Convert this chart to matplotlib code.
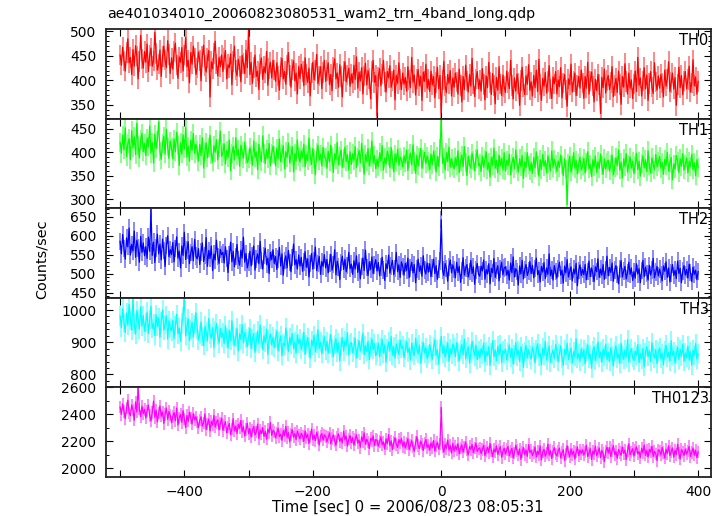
import numpy as np
import matplotlib
matplotlib.use("Agg")
import matplotlib.pyplot as plt
from matplotlib.ticker import MultipleLocator, FuncFormatter

plt.rcParams['font.family'] = ['DejaVu Sans']

title = "ae401034010_20060823080531_wam2_trn_4band_long.qdp"
xlabel = "Time [sec] 0 = 2006/08/23 08:05:31"
ylabel = "Counts/sec"
band_names = ["TH0", "TH1", "TH2", "TH3", "TH0123"]

t_start = -500
t_step = 2

th0 = [452, 431, 468, 440, 419, 457, 485, 436, 447, 412, 463, 429, 471, 450, 403, 438, 492, 444, 425, 459,
       437, 474, 418, 451, 466, 429, 440, 498, 455, 421, 433, 462, 408, 449, 470, 442, 426, 481, 453, 414,
       446, 423, 459, 476, 431, 404, 448, 437, 467, 419, 452, 488, 428, 441, 395, 457, 433, 470, 446, 412,
       425, 458, 441, 399, 449, 472, 430, 417, 446, 461, 366, 438, 424, 455, 480, 433, 409, 447, 428, 452,
       418, 445, 461, 403, 432, 426, 454, 391, 438, 470, 421, 409, 443, 428, 397, 451, 435, 414, 462, 426,
       510, 412, 437, 394, 426, 452, 408, 419, 381, 433, 446, 402, 428, 415, 459, 390, 424, 437, 405, 441,
       421, 398, 436, 409, 380, 427, 445, 403, 418, 392, 431, 457, 410, 386, 422, 440, 399, 415, 372, 428,
       404, 433, 418, 389, 446, 412, 396, 425, 368, 415, 437, 401, 420, 453, 393, 409, 428, 383, 416, 441,
       398, 420, 436, 391, 412, 379, 427, 444, 403, 415, 386, 432, 408, 366, 419, 438, 397, 411, 425, 388,
       413, 395, 431, 402, 448, 384, 417, 399, 426, 372, 409, 435, 391, 420, 404, 362, 418, 441, 396, 410,
       327, 407, 424, 389, 413, 441, 397, 376, 418, 405, 430, 386, 399, 421, 360, 410, 394, 436, 402, 381,
       415, 392, 406, 378, 428, 401, 385, 447, 396, 411, 370, 403, 422, 389, 408, 359, 417, 398, 433, 384,
       402, 377, 419, 391, 408, 364, 396, 427, 383, 410, 333, 401, 439, 388, 375, 412, 394, 420, 368, 405,
       386, 415, 397, 372, 423, 390, 356, 408, 381, 431, 399, 376, 412, 388, 445, 394, 367, 403, 418, 383,
       401, 378, 424, 392, 360, 409, 385, 437, 396, 371, 414, 389, 352, 406, 380, 428, 393, 369, 411, 387,
       375, 419, 396, 383, 441, 390, 362, 405, 378, 413, 394, 349, 400, 427, 386, 371, 409, 392, 432, 380,
       397, 368, 410, 385, 421, 377, 443, 391, 359, 404, 388, 416, 374, 398, 430, 382, 363, 407, 393, 418,
       372, 401, 387, 426, 364, 395, 412, 380, 347, 403, 391, 433, 376, 398, 415, 369, 389, 408, 384, 421,
       395, 363, 408, 384, 437, 372, 399, 417, 388, 356, 402, 379, 412, 391, 332, 406, 385, 423, 374, 400,
       410, 381, 396, 428, 367, 389, 404, 375, 419, 392, 351, 408, 386, 434, 398, 372, 415, 384, 401, 363,
       393, 419, 377, 447, 390, 405, 368, 399, 426, 383, 411, 359, 394, 418, 386, 373, 436, 397, 380, 409,
       384, 412, 395, 366, 421, 388, 403, 438, 377, 396, 415, 382, 406, 349, 392, 427, 385, 410, 371, 399,
       418, 383, 402, 429, 376, 395, 442, 389, 407, 372, 398]

th1 = [421, 398, 437, 405, 452, 391, 418, 429, 384, 446, 409, 433, 395, 462, 414, 388, 427, 440, 401, 419,
       393, 430, 412, 456, 398, 421, 377, 439, 408, 426, 465, 402, 385, 418, 434, 396, 449, 411, 387, 424,
       410, 386, 428, 401, 443, 415, 372, 420, 396, 437, 407, 453, 390, 413, 381, 426, 404, 440, 398, 417,
       405, 381, 417, 393, 431, 366, 402, 420, 388, 410, 436, 395, 379, 414, 400, 427, 384, 409, 445, 391,
       399, 418, 375, 404, 389, 426, 361, 397, 412, 384, 431, 392, 406, 370, 415, 401, 387, 422, 395, 378,
       386, 410, 395, 372, 424, 389, 401, 363, 417, 392, 380, 435, 398, 376, 406, 387, 419, 371, 397, 413,
       394, 371, 409, 386, 428, 380, 397, 414, 365, 401, 389, 420, 377, 393, 412, 358, 398, 382, 426, 390,
       379, 403, 388, 417, 369, 395, 382, 430, 391, 374, 408, 386, 352, 399, 415, 383, 396, 371, 410, 389,
       388, 366, 402, 379, 415, 391, 357, 397, 384, 421, 373, 392, 405, 368, 387, 411, 380, 395, 362, 401,
       374, 397, 383, 412, 367, 390, 404, 378, 419, 386, 353, 395, 380, 408, 371, 389, 424, 377, 393, 365,
       385, 370, 399, 381, 414, 362, 388, 375, 402, 391, 367, 410, 384, 358, 396, 379, 407, 372, 390, 383,
       369, 392, 377, 405, 361, 386, 398, 373, 416, 380, 355, 394, 371, 389, 408, 366, 384, 400, 376, 392,
       381, 363, 396, 374, 402, 385, 358, 391, 370, 409, 470, 376, 388, 362, 399, 380, 411, 368, 386, 372,
       365, 388, 372, 403, 357, 381, 394, 369, 412, 378, 350, 391, 374, 366, 398, 383, 360, 387, 405, 371,
       376, 359, 392, 368, 385, 401, 363, 378, 347, 389, 372, 409, 366, 383, 356, 394, 371, 387, 362, 399,
       360, 383, 371, 396, 352, 377, 389, 365, 405, 374, 358, 386, 369, 393, 344, 380, 367, 399, 373, 361,
       378, 355, 389, 367, 401, 372, 349, 384, 363, 395, 370, 382, 357, 392, 376, 360, 403, 368, 385, 374,
       359, 381, 368, 394, 373, 350, 386, 364, 288, 377, 391, 358, 372, 399, 366, 383, 354, 376, 389, 362,
       371, 387, 356, 379, 401, 365, 374, 348, 384, 369, 392, 357, 380, 366, 396, 372, 353, 386, 364, 378,
       383, 360, 375, 394, 352, 368, 388, 371, 405, 362, 379, 345, 386, 370, 397, 358, 374, 390, 366, 381,
       355, 372, 398, 363, 381, 349, 376, 392, 367, 384, 359, 403, 371, 356, 388, 374, 362, 395, 369, 380,
       391, 366, 379, 353, 385, 372, 400, 360, 377, 389, 341, 375, 364, 393, 381, 357, 386, 370, 397, 362,
       374, 388, 356, 381, 369, 396, 363, 378, 350, 384, 367]

th2 = [585, 552, 603, 566, 538, 594, 571, 620, 549, 577, 560, 612, 543, 588, 567, 530, 598, 556, 581, 547,
       571, 540, 596, 559, 670, 548, 583, 529, 567, 604, 552, 578, 536, 591, 561, 519, 574, 600, 545, 563,
       550, 582, 531, 566, 597, 541, 559, 515, 573, 548, 609, 537, 562, 584, 526, 555, 571, 534, 590, 546,
       539, 566, 524, 557, 581, 532, 548, 595, 519, 561, 540, 573, 508, 552, 536, 588, 545, 527, 564, 550,
       556, 528, 571, 540, 503, 549, 583, 531, 559, 518, 545, 577, 536, 522, 562, 541, 596, 530, 553, 515,
       531, 559, 520, 547, 573, 509, 538, 552, 526, 585, 534, 512, 548, 567, 524, 541, 500, 556, 537, 563,
       527, 545, 511, 538, 569, 520, 552, 496, 534, 547, 515, 561, 529, 505, 542, 578, 523, 537, 512, 549,
       520, 543, 506, 531, 558, 517, 539, 491, 527, 553, 512, 534, 570, 508, 526, 545, 498, 532, 519, 550,
       515, 537, 502, 528, 551, 509, 524, 563, 497, 533, 518, 484, 529, 546, 511, 538, 505, 521, 556, 513,
       525, 498, 534, 512, 547, 503, 529, 486, 519, 541, 508, 562, 516, 495, 531, 511, 544, 500, 523, 537,
       507, 529, 494, 518, 543, 510, 482, 526, 513, 549, 501, 520, 535, 497, 514, 556, 505, 523, 490, 531,
       519, 496, 527, 508, 541, 489, 515, 530, 502, 524, 476, 512, 538, 506, 521, 493, 547, 510, 499, 528,
       504, 526, 492, 515, 538, 500, 521, 485, 512, 533, 642, 509, 495, 527, 514, 480, 518, 536, 502, 523,
       511, 489, 530, 503, 519, 477, 508, 542, 496, 515, 524, 491, 506, 535, 500, 518, 472, 510, 527, 498,
       493, 520, 507, 536, 485, 511, 499, 526, 473, 514, 502, 540, 490, 508, 521, 481, 512, 530, 497, 515,
       518, 496, 509, 483, 528, 502, 544, 491, 513, 506, 470, 520, 499, 535, 486, 511, 524, 495, 507, 532,
       500, 522, 489, 513, 541, 497, 508, 478, 519, 504, 529, 487, 515, 498, 552, 494, 510, 483, 521, 505,
       488, 514, 530, 496, 509, 475, 520, 502, 537, 491, 506, 518, 481, 512, 499, 527, 468, 508, 523, 495,
       511, 497, 524, 484, 506, 533, 492, 515, 501, 479, 518, 505, 539, 490, 512, 496, 524, 485, 509, 546,
       494, 516, 503, 528, 480, 509, 521, 497, 473, 512, 534, 491, 507, 519, 486, 502, 530, 498, 515, 482,
       505, 488, 526, 499, 513, 476, 508, 535, 492, 517, 501, 483, 522, 496, 510, 540, 489, 504, 519, 494,
       512, 497, 481, 520, 506, 531, 490, 515, 478, 502, 524, 495, 509, 487, 533, 500, 514, 476, 507, 521,
       496, 511, 488, 525, 503, 479, 517, 498, 509, 484, 505]

th3 = [982, 945, 1004, 961, 930, 991, 953, 1018, 969, 938, 1040, 957, 925, 998, 972, 941, 1010, 950, 983, 934,
       961, 994, 927, 970, 1012, 943, 958, 921, 985, 949, 976, 915, 964, 1001, 938, 955, 982, 910, 967, 946,
       935, 968, 912, 951, 987, 926, 944, 903, 960, 981, 1038, 920, 948, 973, 905, 939, 962, 916, 955, 992,
       941, 907, 925, 963, 918, 889, 950, 932, 904, 974, 926, 912, 946, 883, 935, 958, 920, 897, 943, 915,
       929, 896, 951, 913, 882, 938, 906, 967, 921, 890, 915, 944, 873, 926, 909, 955, 898, 931, 912, 886,
       918, 943, 881, 910, 927, 869, 902, 935, 896, 954, 913, 877, 920, 899, 941, 862, 908, 926, 891, 916,
       884, 912, 935, 873, 901, 920, 858, 897, 889, 944, 906, 871, 915, 893, 927, 880, 902, 866, 923, 896,
       910, 877, 899, 931, 862, 894, 914, 885, 851, 906, 889, 922, 870, 897, 939, 881, 901, 864, 892, 918,
       875, 903, 866, 897, 924, 881, 855, 892, 911, 869, 898, 842, 886, 915, 873, 904, 889, 930, 860, 894,
       899, 868, 887, 913, 851, 880, 905, 874, 893, 928, 862, 889, 871, 903, 846, 885, 910, 877, 896, 858,
       870, 897, 855, 884, 909, 866, 892, 838, 879, 901, 873, 918, 860, 886, 851, 895, 877, 862, 906, 881,
       889, 852, 876, 903, 868, 882, 845, 897, 871, 858, 912, 879, 864, 891, 835, 874, 899, 867, 884, 850,
       861, 893, 870, 847, 886, 908, 859, 877, 832, 881, 918, 866, 889, 854, 873, 898, 841, 880, 863, 895,
       884, 856, 899, 868, 842, 877, 893, 861, 910, 849, 872, 886, 835, 865, 902, 878, 857, 891, 846, 874,
       851, 880, 863, 897, 839, 872, 858, 886, 828, 869, 905, 855, 876, 843, 888, 861, 894, 837, 874, 866,
       879, 845, 868, 892, 853, 881, 832, 863, 899, 857, 874, 840, 886, 866, 822, 871, 890, 851, 877, 860,
       848, 885, 869, 836, 877, 895, 856, 866, 829, 882, 859, 903, 845, 870, 888, 838, 862, 876, 850, 893,
       873, 840, 864, 889, 851, 828, 878, 860, 897, 846, 867, 882, 835, 871, 856, 911, 849, 865, 842, 880,
       855, 877, 833, 868, 892, 849, 862, 819, 874, 886, 843, 866, 901, 852, 870, 838, 879, 857, 894, 846,
       869, 841, 883, 858, 826, 871, 889, 850, 864, 835, 897, 861, 847, 876, 854, 908, 839, 866, 880, 852,
       843, 872, 859, 893, 837, 865, 848, 881, 824, 868, 886, 855, 874, 840, 899, 862, 851, 877, 833, 870,
       882, 849, 866, 830, 874, 891, 853, 869, 842, 905, 858, 872, 836, 863, 885, 847, 878, 856, 894, 841,
       867, 852, 888, 845, 871, 829, 876, 859, 896, 848, 864]

th0123 = [2452, 2398, 2476, 2421, 2367, 2445, 2503, 2410, 2389, 2468, 2431, 2355, 2490, 2417, 2600, 2440, 2382, 2459, 2404, 2436,
          2371, 2425, 2468, 2389, 2350, 2412, 2497, 2376, 2430, 2343, 2408, 2461, 2385, 2417, 2332, 2399, 2446, 2361, 2420, 2394,
          2337, 2384, 2412, 2351, 2446, 2320, 2373, 2398, 2339, 2426, 2365, 2302, 2390, 2348, 2415, 2371, 2327, 2405, 2358, 2381,
          2342, 2298, 2355, 2381, 2311, 2336, 2402, 2287, 2329, 2364, 2276, 2347, 2318, 2392, 2305, 2340, 2359, 2283, 2331, 2370,
          2280, 2318, 2345, 2262, 2304, 2331, 2249, 2290, 2366, 2277, 2312, 2258, 2326, 2296, 2354, 2271, 2308, 2239, 2287, 2334,
          2255, 2294, 2231, 2279, 2310, 2246, 2268, 2327, 2220, 2283, 2257, 2301, 2236, 2274, 2215, 2289, 2262, 2338, 2243, 2280,
          2270, 2225, 2261, 2296, 2234, 2252, 2206, 2279, 2241, 2310, 2228, 2264, 2195, 2249, 2287, 2230, 2257, 2212, 2275, 2243,
          2218, 2259, 2240, 2197, 2276, 2225, 2251, 2183, 2233, 2290, 2212, 2245, 2204, 2266, 2229, 2171, 2238, 2256, 2209, 2247,
          2236, 2195, 2228, 2262, 2181, 2219, 2247, 2203, 2170, 2231, 2255, 2198, 2224, 2187, 2273, 2210, 2238, 2164, 2216, 2242,
          2190, 2227, 2171, 2214, 2248, 2186, 2209, 2155, 2232, 2199, 2262, 2178, 2215, 2193, 2146, 2221, 2204, 2239, 2168, 2212,
          2207, 2163, 2198, 2232, 2174, 2195, 2143, 2218, 2181, 2249, 2166, 2203, 2138, 2191, 2226, 2177, 2154, 2212, 2185, 2221,
          2161, 2196, 2150, 2183, 2219, 2139, 2172, 2204, 2158, 2126, 2190, 2234, 2167, 2145, 2201, 2178, 2131, 2186, 2213, 2154,
          2173, 2134, 2188, 2152, 2205, 2127, 2166, 2193, 2141, 2180, 2450, 2158, 2119, 2176, 2147, 2209, 2135, 2169, 2112, 2184,
          2128, 2165, 2137, 2182, 2106, 2151, 2173, 2119, 2157, 2194, 2133, 2098, 2161, 2140, 2176, 2115, 2149, 2186, 2124, 2143,
          2150, 2109, 2138, 2171, 2094, 2127, 2155, 2116, 2183, 2131, 2087, 2143, 2120, 2166, 2102, 2135, 2160, 2081, 2126, 2148,
          2105, 2139, 2161, 2092, 2124, 2148, 2077, 2113, 2170, 2130, 2098, 2143, 2066, 2119, 2154, 2101, 2135, 2088, 2175, 2116,
          2132, 2094, 2118, 2157, 2083, 2126, 2102, 2165, 2061, 2121, 2140, 2089, 2113, 2178, 2097, 2130, 2072, 2124, 2152, 2105,
          2091, 2129, 2149, 2076, 2115, 2138, 2058, 2107, 2166, 2120, 2084, 2143, 2101, 2127, 2069, 2119, 2158, 2093, 2135, 2110,
          2137, 2098, 2122, 2171, 2086, 2111, 2145, 2065, 2128, 2104, 2163, 2092, 2119, 2150, 2079, 2132, 2108, 2049, 2124, 2156,
          2113, 2152, 2087, 2130, 2167, 2101, 2124, 2073, 2139, 2118, 2096, 2158, 2110, 2135, 2064, 2127, 2181, 2099, 2121, 2145,
          2090, 2134, 2159, 2106, 2123, 2078, 2148, 2115, 2172, 2096, 2131, 2083, 2140, 2119, 2163, 2088, 2125, 2107, 2057, 2137,
          2128, 2099, 2154, 2117, 2075, 2141, 2109, 2166, 2093, 2124, 2150, 2082, 2133, 2102, 2177, 2114, 2068, 2138, 2120, 2095,
          2142, 2105, 2129, 2161, 2087, 2118, 2150, 2096, 2134, 2079, 2121]

# 1-sigma error half-lengths
errors = [21, 20, 23, 30, 46]

series = [th0, th1, th2, th3, th0123]
colors = ["#ff0000", "#00ff00", "#0000ff", "#00ffff", "#ff00ff"]
light = ["#ff8080", "#80ff80", "#8080ff", "#80ffff", "#ff80ff"]
ylims = [(322, 505), (281, 472), (437, 673), (761, 1039), (1939, 2601)]
majors = [50, 50, 50, 100, 200]
minors = [10, 10, 10, 20, 100]

W, H = 722, 516
fig = plt.figure(figsize=(W / 100, H / 100), dpi=100)

left, right = 106 / W, 711 / W
top_px, bot_px = 29, 476.5
ph = (bot_px - top_px) / 5

for i in range(5):
    y0 = 1 - (top_px + ph * (i + 1)) / H
    ax = fig.add_axes([left, y0, right - left, ph / H])
    vals = np.array(series[i], dtype=float)
    t = t_start + t_step * np.arange(len(vals))
    ax.vlines(t, vals - errors[i], vals + errors[i], color=light[i], lw=1.3, zorder=1)
    ax.plot(t, vals, color=colors[i], lw=0.9, zorder=2)
    ax.set_xlim(-522, 420)
    ax.set_ylim(*ylims[i])
    ax.yaxis.set_major_locator(MultipleLocator(majors[i]))
    ax.yaxis.set_minor_locator(MultipleLocator(minors[i]))
    ax.xaxis.set_major_locator(MultipleLocator(100))
    ax.tick_params(axis='both', which='major', direction='in', length=5, width=0.8,
                   top=True, right=True, labelsize=10, colors='black')
    ax.tick_params(axis='y', which='major', pad=7)
    ax.tick_params(axis='x', which='major', pad=6)
    ax.tick_params(axis='y', which='minor', direction='in', length=2.5, width=0.7,
                   left=True, right=True)
    for sp in ax.spines.values():
        sp.set_linewidth(1.3)
        sp.set_color('#222222')
    if i < 4:
        ax.tick_params(axis='x', labelbottom=False)
    else:
        ax.xaxis.set_major_formatter(FuncFormatter(
            lambda v, p: ("%d" % v).replace('-', '\u2212') if int(round(v)) % 200 == 0 else ""))
    ax.text(0.996, 0.95, band_names[i], transform=ax.transAxes, ha='right', va='top',
            fontsize=10.5)

fig.text(107 / W, 1 - 14 / H, title, ha='left', va='center', fontsize=10.2)
fig.text(42 / W, 1 - 259 / H, ylabel, rotation=90, ha='center', va='center', fontsize=10.4)
fig.text(408 / W, 1 - 507 / H, xlabel, ha='center', va='center', fontsize=10.7)

fig.savefig("out.png", dpi=100)
